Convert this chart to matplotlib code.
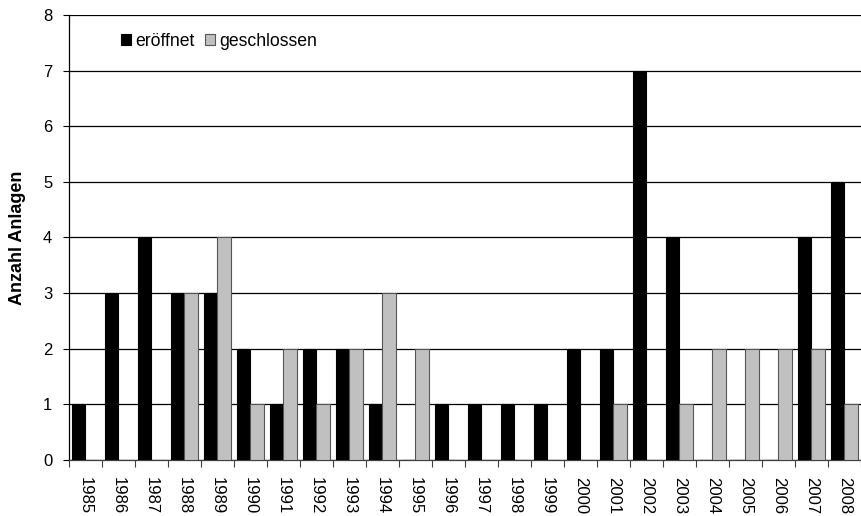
import numpy as np
import matplotlib.pyplot as plt

years = [str(y) for y in range(1985, 2009)]
eroeffnet = [1, 3, 4, 3, 3, 2, 1, 2, 2, 1, 0, 1, 1, 1, 1, 2, 2, 7, 4, 0, 0, 0, 4, 5]
geschlossen = [0, 0, 0, 3, 4, 1, 2, 1, 2, 3, 2, 0, 0, 0, 0, 0, 1, 0, 1, 2, 2, 2, 2, 1]

plt.rcParams["font.family"] = ["Liberation Sans", "DejaVu Sans"]

fig = plt.figure(figsize=(8.61, 5.16), dpi=100)
ax = fig.add_axes([0.0801, 0.1085, 0.9199, 0.8625])

x = np.arange(len(years))
width = 0.4

ax.bar(x - width / 2, eroeffnet, width, color="black", edgecolor="black",
       linewidth=0.8, label="eröffnet", zorder=3)
ax.bar(x + width / 2, geschlossen, width, color="#c0c0c0", edgecolor="#555555",
       linewidth=0.8, label="geschlossen", zorder=3)

ax.set_xlim(-0.5, len(years) - 0.5)
ax.set_ylim(0, 8)
ax.set_yticks(range(0, 9))
ax.yaxis.grid(True, color="black", linewidth=0.9, zorder=0)
ax.set_axisbelow(True)

ax.set_xticks(x)
ax.set_xticklabels(years, rotation=270, fontsize=12)
ax.set_xticks(np.arange(-0.5, len(years), 1), minor=True)
ax.tick_params(axis="x", which="major", length=0, pad=12)
ax.tick_params(axis="x", which="minor", length=5, width=0.8, color="#404040")
ax.tick_params(axis="y", length=4, width=0.8, labelsize=12, pad=8)

for side in ["top", "right"]:
    ax.spines[side].set_visible(False)
ax.spines["left"].set_linewidth(0.9)
ax.spines["bottom"].set_linewidth(0.9)
ax.spines["bottom"].set_color("#404040")

ax.set_ylabel("Anzahl Anlagen", fontsize=13, fontweight="bold")
ax.yaxis.set_label_coords(-0.054, 0.5)

ax.legend(loc="upper left", bbox_to_anchor=(0.0657, 0.96), ncol=2, frameon=False,
          fontsize=12.7, handlelength=0.55, handleheight=0.55, handletextpad=0.25,
          columnspacing=0.6, borderpad=0, borderaxespad=0)

fig.savefig("out.png", dpi=100)
